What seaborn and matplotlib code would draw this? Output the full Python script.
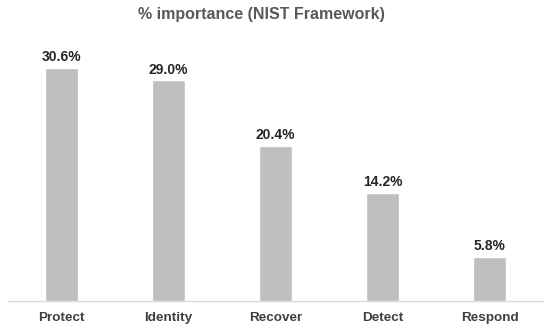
import matplotlib
matplotlib.use("Agg")
import matplotlib.pyplot as plt
import seaborn as sns
import pandas as pd

categories = ["Protect", "Identity", "Recover", "Detect", "Respond"]
values = [30.6, 29.0, 20.4, 14.2, 5.8]

df = pd.DataFrame({"category": categories, "value": values})

sns.set_style("white")
plt.rcParams["font.family"] = ["Liberation Sans", "DejaVu Sans"]

fig = plt.figure(figsize=(5.5, 3.31), dpi=100)
ax = fig.add_axes([8 / 550, (331 - 301) / 331, 535 / 550, (301 - 40) / 331])

sns.barplot(data=df, x="category", y="value", color="#BFBFBF", width=0.31,
            saturation=1, ax=ax)

ax.set_ylim(0, 34.3)
ax.set_xlim(-0.5, 4.5)
for i, v in enumerate(values):
    ax.text(i, v + 0.5, f"{v:.1f}%", ha="center", va="bottom",
            fontsize=10, fontweight="bold", color="#262626")

ax.set_xlabel("")
ax.set_ylabel("")
ax.set_yticks([])
ax.tick_params(axis="x", length=0, pad=8, labelsize=9.7, labelcolor="#404040")
for lbl in ax.get_xticklabels():
    lbl.set_fontweight("bold")
for s in ["top", "left", "right"]:
    ax.spines[s].set_visible(False)
ax.spines["bottom"].set_color("#D9D9D9")
ax.spines["bottom"].set_linewidth(1)

fig.text(261 / 550, 1 - 15 / 331, "% importance (NIST Framework)", ha="center", va="center",
         fontsize=11.5, fontweight="bold", color="#595959")

fig.savefig("out.png", dpi=100)
